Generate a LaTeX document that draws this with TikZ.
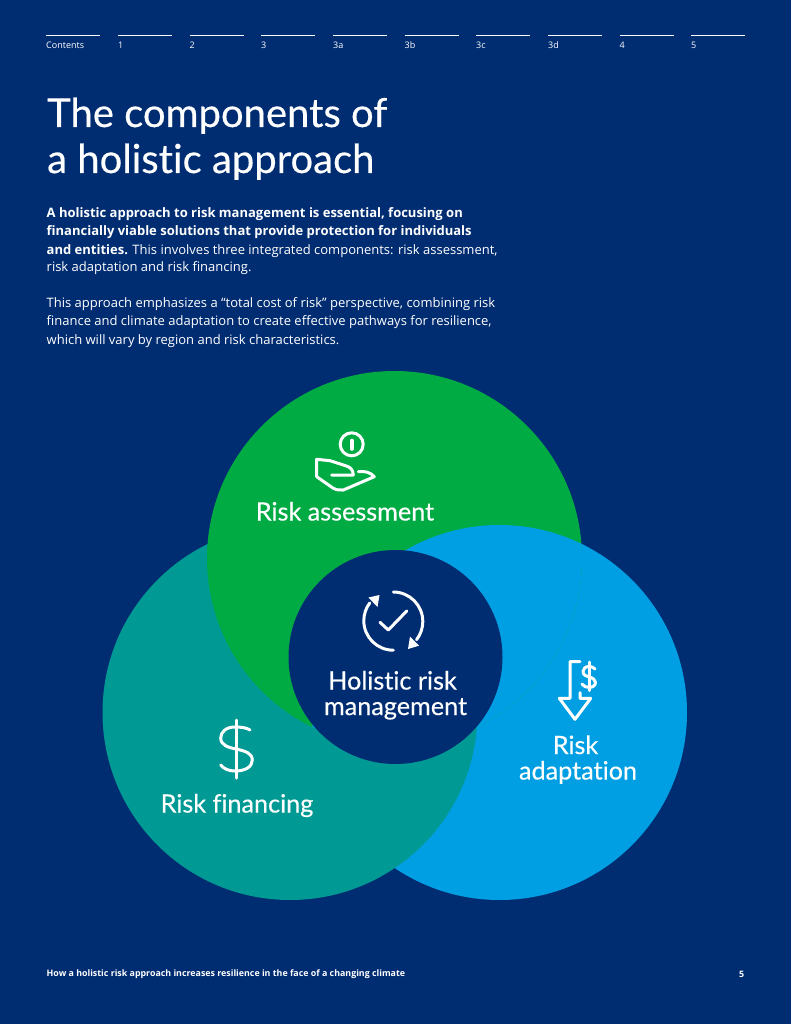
\documentclass[tikz,border=0pt]{standalone}
\usepackage{fontspec}
\setmainfont{Open Sans}
\newfontfamily\headfont{Lato}[FakeBold=0.35, Ligatures=NoCommon]
\usetikzlibrary{positioning}
\definecolor{pagebg}{RGB}{0,45,114}
\definecolor{assessgreen}{RGB}{0,171,68}
\definecolor{financeteal}{RGB}{0,153,148}
\definecolor{adaptblue}{RGB}{0,159,227}
\tikzset{
    navline/.style={white, line width=0.9pt},
    navlabel/.style={anchor=west, inner sep=0pt, text=white, font=\fontsize{9}{10}\selectfont},
    bodytext/.style={anchor=base west, inner sep=0pt, text=white, font=\fontsize{13}{15}\selectfont},
    titletext/.style={anchor=base west, inner sep=0pt, text=white, font=\headfont\fontsize{40}{46}\selectfont},
    circlelabel/.style={anchor=base, inner sep=0pt, text=white, font=\headfont\fontsize{25.2}{28}\selectfont},
    iconline/.style={white, line width=3pt, line cap=round, line join=round},
    footertext/.style={anchor=west, inner sep=0pt, text=white, font=\bfseries\fontsize{8.85}{10}\selectfont}
}

\begin{document}
\begin{tikzpicture}[x=1pt, y=-1pt]
    % Page
    \fill[pagebg] (0,0) rectangle (791,1024);
    \useasboundingbox (0,0) rectangle (791,1024);

    % Navigation
    \draw[navline] (46,35.7) -- (100,35.7);
    \draw[navline] (118,35.7) -- (172,35.7);
    \draw[navline] (189.5,35.7) -- (243.5,35.7);
    \draw[navline] (261,35.7) -- (315,35.7);
    \draw[navline] (333,35.7) -- (387,35.7);
    \draw[navline] (404.5,35.7) -- (458.5,35.7);
    \draw[navline] (476,35.7) -- (530,35.7);
    \draw[navline] (548,35.7) -- (602,35.7);
    \draw[navline] (619.5,35.7) -- (673.5,35.7);
    \draw[navline] (691,35.7) -- (745,35.7);
    \node[navlabel] (navcontents) at (46,45.5) {Contents};
    \node[navlabel] (navone) at (118,45.5) {1};
    \node[navlabel] (navtwo) at (189.5,45.5) {2};
    \node[navlabel] (navthree) at (261,45.5) {3};
    \node[navlabel] (navthreea) at (333,45.5) {3a};
    \node[navlabel] (navthreeb) at (404.5,45.5) {3b};
    \node[navlabel] (navthreec) at (476,45.5) {3c};
    \node[navlabel] (navthreed) at (548,45.5) {3d};
    \node[navlabel] (navfour) at (619.5,45.5) {4};
    \node[navlabel] (navfive) at (691,45.5) {5};

    % Title
    \node[titletext] (titleone) at (47,127) {The components of};
    \node[titletext] (titletwo) at (47,173) {a holistic approach};

    % Intro text
    \node[bodytext] (introa) at (46.5,217.5) {\bfseries A holistic approach to risk management is essential, focusing on};
    \node[bodytext] (introb) at (46.5,235.5) {\bfseries financially viable solutions that provide protection for individuals};
    \node[bodytext] (introc) at (46.5,254) {\textbf{and entities.} This involves three integrated components: risk assessment,};
    \node[bodytext] (introd) at (46.5,271.5) {risk adaptation and risk financing.};
    \node[bodytext] (introe) at (46.5,307.5) {This approach emphasizes a “total cost of risk” perspective, combining risk};
    \node[bodytext] (introf) at (46.5,325.5) {finance and climate adaptation to create effective pathways for resilience,};
    \node[bodytext] (introg) at (46.5,344) {which will vary by region and risk characteristics.};

    % Circles
    \fill[adaptblue] (499.5,712.5) circle (187.5);
    \fill[financeteal] (290,712.5) circle (187.5);
    \fill[assessgreen] (394.5,558.5) circle (187.5);
    \begin{scope}
        \clip (394.5,558.5) circle (187.5);
        \fill[adaptblue] (499.5,712.5) circle (187.5);
    \end{scope}
    \fill[pagebg] (395.5,657) circle (107);

    % Coin in hand
    \draw[iconline] (351.7,444.3) circle (11.5);
    \draw[iconline, line width=3.6pt] (351.7,440.5) -- (351.7,449);
    \draw[iconline] (331.7,475) -- (353.3,475) .. controls (353,469) and (350,467) .. (345,465.5) -- (330,460.7) -- (316.7,459.3) -- (316.7,476.7) -- (333.3,488.3) .. controls (337,490) and (340,490.5) .. (343.3,490) -- (374.3,476.7) .. controls (370,472) and (365,471) .. (358.3,471.7);

    % Cycle with check
    \draw[iconline] (393.3,592) arc[start angle=-90, end angle=38, radius=29.5];
    \draw[iconline] (393.3,650.2) arc[start angle=90, end angle=217, radius=29.5];
    \fill[white] (368.5,597.5) -- (379.5,595) -- (377.5,607) -- cycle;
    \fill[white] (408,649) -- (419,645.7) -- (410,636.5) -- cycle;
    \draw[iconline] (380,622.3) -- (388.3,630) -- (406.7,611);

    % Down arrow with dollar
    \draw[iconline] (580,661.7) -- (570,661.7) -- (570,698.3) -- (559.3,698.3) -- (575,719.3) -- (590.7,698.3) -- (580,698.3) -- (580,692.7);
    \draw[iconline] (595,669) .. controls (593.5,667.3) and (591.5,666.5) .. (589,666.5) .. controls (585.5,666.5) and (583,668.5) .. (583,671.5) .. controls (583,675) and (586,676.2) .. (589,677) .. controls (592.5,678) and (595.5,679.2) .. (595.5,682.5) .. controls (595.5,685.5) and (592.5,687.5) .. (589,687.5) .. controls (586,687.5) and (583.5,686) .. (582,684);
    \draw[iconline] (589,662) -- (589,690.5);

    % Big dollar
    \draw[iconline] (250,730) .. controls (246,727.5) and (241,727) .. (235,727) .. controls (226,727) and (220.7,732) .. (220.7,738) .. controls (220.7,745) and (228,747.5) .. (236,749) .. controls (245,751) and (252.3,753) .. (252.3,760) .. controls (252.3,767) and (245,771) .. (235,771) .. controls (229,771) and (224,769) .. (220.7,765);
    \draw[iconline] (236,720) -- (236,778);

    % Circle labels
    \node[circlelabel] (assess) at (345,520.5) {Risk assessment};
    \node[circlelabel] (holistica) at (392.5,689.5) {Holistic risk};
    \node[circlelabel] (holisticb) at (395.5,715) {management};
    \node[circlelabel] (adapta) at (575.5,754) {Risk};
    \node[circlelabel] (adaptb) at (578,779.5) {adaptation};
    \node[circlelabel] (financing) at (237,812.5) {Risk financing};

    % Footer
    \node[footertext] (footer) at (46.5,974) {How a holistic risk approach increases resilience in the face of a changing climate};
    \node[footertext] (pagenum) at (739,974) {5};
\end{tikzpicture}
\end{document}
